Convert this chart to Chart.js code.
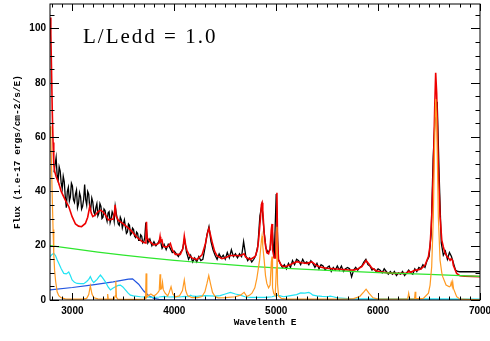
<!DOCTYPE html>
<html>
<head>
<meta charset="utf-8">
<script src="https://cdn.jsdelivr.net/npm/chart.js@4.4.1/dist/chart.umd.min.js"></script>
<style>
  html, body { margin: 0; padding: 0; background: #fff; }
  canvas { display: block; }
</style>
</head>
<body>
<canvas id="spec" width="490" height="341"></canvas>
<script>
// ---- Observed spectrum (black) ----
const obsWave = [
  2820,2830,2840,2850,2860,2870,2880,2890,2900,2910, 2920,2930,2940,2950,2960,2970,2980,2990,3000,3010,
  3020,3030,3040,3050,3060,3070,3080,3090,3100,3110, 3120,3130,3140,3150,3160,3170,3180,3190,3200,3210,
  3220,3230,3240,3250,3260,3270,3280,3290,3300,3310, 3320,3330,3340,3350,3360,3370,3380,3390,3400,3410,
  3420,3430,3440,3450,3460,3470,3480,3490,3500,3510, 3520,3530,3540,3550,3560,3570,3580,3590,3600,3610,
  3620,3630,3640,3650,3660,3670,3680,3690,3700,3710,
  3720,3740,3760,3780,3800, 3820,3840,3860,3880,3900, 3920,3940,3960,3980,4000,
  4020,4040,4060,4080,4100, 4120,4140,4160,4180,4200, 4220,4240,4260,4280,4300, 4320,4340,4360,4380,4400,
  4420,4440,4460,4480,4500, 4520,4540,4560,4580,4600, 4620,4640,4660,4680,4700, 4720,4740,4760,4780,4800,
  4820,4840,4860,4880,4900, 4920,4940,4960,4980,5000, 5020,5040,5060,5080,5100, 5120,5140,5160,5180,5200,
  5220,5240,5260,5280,5300, 5320,5340,5360,5380,5400, 5420,5440,5460,5480,5500, 5520,5540,5560,5580,5600,
  5620,5640,5660,5680,5700, 5720,5740,5760,5780,5800, 5820,5840,5860,5880,5900, 5920,5940,5960,5980,6000,
  6020,6040,6060,6080,6100, 6120,6140,6160,6180,6200, 6220,6240,6260,6280,6300, 6320,6340,6360,6380,6400,
  6420,6440,6460,6480,6500, 6520,6540,6560,6580,6600, 6620,6640,6660,6680,6700, 6720,6740,6760,6780,6800,
  7000
];
const obsFlux = [
  47.0,50.0,52.5,46.0,44.0,49.0,47.5,43.0,41.0,45.5, 43.5,38.0,34.0,40.0,41.5,36.5,38.0,43.0,42.0,37.0,
  36.0,39.0,40.5,34.0,35.5,39.5,38.0,33.5,34.5,37.0, 42.5,37.0,35.0,40.0,39.0,34.0,33.5,37.5,36.0,32.5,
  31.5,34.0,35.5,31.0,32.0,35.5,34.5,30.0,30.5,33.5, 33.0,30.5,29.0,32.0,32.5,28.5,30.0,32.5,31.5,29.0,
  34.5,32.0,30.0,28.0,27.5,30.5,29.5,26.5,28.0,29.5, 27.0,24.5,25.0,28.0,27.5,24.0,24.5,26.5,26.0,23.5,
  23.0,25.0,24.5,22.0,22.0,24.0,23.5,21.0,21.5,23.0,
  28.5,21.0,22.5,20.0,21.5, 20.0,21.0,22.5,19.0,20.5, 18.5,20.5,19.0,17.5,18.0,
  17.0,16.0,17.5,18.5,22.5, 17.5,15.0,16.5,14.0,15.5, 14.0,16.0,14.5,15.0,19.0, 24.0,27.0,21.5,18.5,16.5,
  15.0,17.0,15.5,16.5,15.0, 17.5,15.5,18.5,16.0,17.0, 15.5,17.0,16.0,21.5,16.5, 14.5,15.5,14.0,15.0,16.5,
  20.0,31.0,35.0,25.5,19.0, 17.5,18.5,26.5,15.5,39.0, 15.0,13.5,12.0,13.0,11.5, 13.5,12.0,14.5,13.0,15.0,
  14.5,13.0,15.0,13.5,14.0, 13.0,14.5,13.5,12.0,13.5, 11.5,13.0,12.5,11.0,12.0, 12.5,10.5,12.0,11.0,12.5,
  11.0,12.5,10.5,11.5,12.0, 11.5,8.5,11.0,12.0,11.0, 12.0,12.5,14.0,15.0,13.0, 12.5,11.0,11.5,10.5,11.5,
  11.0,10.0,11.5,10.5,9.5, 10.5,9.5,10.5,9.0,10.0, 9.5,10.5,9.0,10.0,11.0, 10.0,9.5,11.5,10.5,12.0,
  11.5,13.0,12.0,14.5,16.0, 24.0,52.0,68.0,73.0,45.0, 21.0,16.5,18.0,15.0,17.5, 16.0,13.5,11.0,10.5,10.4,
  10.4
];

// ---- Total model (red) ----
const modelWave = [
  2782,2788,2795,2802,2810,2817,2825,2840,2866,2890,
  2915,2940,2964,2997,3030,3060,3090,3127,3150,3170,
  3185,3200,3225,3250,3275,3300,3324,3353,3400,3412,
  3420,3428,3451,3500,3569,3634,3683,3715,3722,3727,
  3732,3760,3797,3830,3850,3860,3866,3879,3890,3912,
  3940,3961,3980,4010,4059,4085,4098,4110,4124,4150,
  4173,4222,4272,4304,4325,4340,4355,4370,4395,4418,
  4467,4500,4549,4600,4647,4685,4700,4745,4794,4815,
  4827,4845,4855,4861,4868,4882,4895,4908,4925,4940,
  4952,4959,4964,4980,4995,5002,5007,5013,5023,5045,
  5072,5100,5137,5170,5203,5250,5301,5350,5399,5450,
  5497,5560,5627,5700,5758,5800,5840,5882,5910,5938,
  5980,6020,6100,6150,6281,6300,6320,6364,6379,6420,
  6461,6494,6510,6526,6542,6555,6565,6575,6591,6608,
  6625,6640,6655,6673,6690,6706,6716,6731,6738,6771,
  6804,6850,7000
];
const modelFlux = [
  104,98,85,70,58,50,47.5,45.5,43,40,
  38,36,34.4,30.7,28.0,27.2,27.0,28.2,30.5,34.4,
  32.0,30.7,31.3,32.5,33.1,32.5,31.3,29.5,29.8,32.0,
  35.0,31.0,29.3,28.0,25.8,23.1,21.5,21.0,24.0,28.8,
  23.0,21.5,20.3,20.5,21.0,23.3,21.5,22.0,19.8,19.5,
  19.8,20.8,18.5,16.8,16.8,19.0,23.5,20.5,18.2,16.3,
  15.5,14.9,16.6,20.5,24.5,26.4,24.0,21.5,18.0,16.3,
  15.2,15.6,16.4,16.4,16.3,17.0,15.8,14.9,16.0,18.5,
  22.0,30.0,35.2,35.8,33.0,24.5,20.0,17.4,17.0,19.0,
  26.0,28.0,18.5,15.5,15.5,25.0,39.5,22.0,14.8,13.0,
  12.2,12.4,13.0,13.6,14.1,13.7,13.5,14.0,12.6,12.0,
  11.7,11.5,11.3,11.1,11.0,11.4,12.3,14.5,13.3,11.8,
  10.8,10.4,10.0,9.8,9.8,10.6,10.2,11.0,11.0,11.4,
  12.9,16.0,20.0,30.0,48.0,70.0,83.7,76.0,49.0,30.7,
  22.0,19.6,17.5,16.2,15.5,14.6,15.2,14.6,12.8,9.8,
  8.9,8.8,8.6
];

// ---- Power-law continuum (green) ----
const contWave = [2780,3000,3250,3500,3750,4000,4250,4500,4750,5000,5500,6000,6500,7000];
const contFlux = [20.0,18.9,17.6,16.5,15.5,14.6,13.8,13.1,12.4,11.8,10.9,10.1,9.4,8.7];

// ---- Balmer continuum (blue) ----
const balmerWave = [2780,3000,3200,3400,3550,3590,3650,3700,3750,3800,3850,3900,3950,4000,7000];
const balmerFlux = [3.7,4.6,5.6,6.7,7.7,7.8,5.8,3.3,1.6,0.6,0.2,0.05,0.0,0.0,0.0];

// ---- Fe II pseudo-continuum (cyan) ----
const feWave = [
  2782,2800,2817,2835,2850,2866,2890,2915,2940,2964,
  2980,2997,3020,3046,3080,3111,3140,3160,3176,3193,
  3209,3225,3242,3260,3275,3295,3324,3350,3373,3400,
  3422,3450,3471,3495,3520,3545,3569,3600,3667,3720,
  3797,3850,3900,3950,4000,4050,4100,4140,4160,4180,
  4220,4260,4300,4350,4400,4450,4500,4550,4600,4647,
  4700,4750,4840,4900,4960,5007,5040,5072,5110,5170,
  5200,5240,5280,5320,5340,5360,5400,5450,5500,5530,
  5560,5600,5700,5900,6200,6500,7000
];
const feFlux = [
  16.0,16.8,17.2,16.3,14.8,13.5,11.5,9.8,9.6,10.3,
  9.0,7.4,6.5,6.1,6.0,6.0,6.8,7.6,8.6,7.2,
  6.4,7.0,7.6,8.5,9.2,8.2,6.7,4.8,3.7,4.4,
  4.9,5.4,5.5,4.8,3.7,2.6,1.8,1.5,1.2,1.1,
  1.0,1.1,1.3,1.1,1.2,1.1,1.3,1.2,1.8,1.4,
  1.3,1.5,1.6,1.5,1.4,1.6,2.2,2.8,2.2,1.8,
  1.1,1.0,1.0,1.0,1.2,1.8,1.5,1.2,1.4,1.8,
  2.0,2.6,2.5,2.8,2.4,1.8,1.5,1.3,1.2,1.4,
  1.2,0.8,0.5,0.4,0.4,0.4,0.3
];

// ---- Emission lines (orange) ----
const lineWave = [
  2782,2788,2795,2802,2810,2817,2825,2835,2850,2866,
  2890,2930,3000,3100,3140,3160,3176,3192,3210,3250,
  3340,3346,3352,3410,3420,3426,3432,3445,3600,3700,
  3718,3723,3730,3740,3770,3798,3820,3840,3852,3860,
  3866,3876,3884,3892,3910,3935,3950,3968,3985,4010,
  4050,4080,4098,4112,4130,4173,4230,4272,4300,4320,
  4338,4355,4375,4400,4430,4500,4600,4650,4685,4712,
  4740,4762,4790,4810,4837,4855,4861,4868,4882,4895,
  4908,4925,4940,4952,4959,4964,4975,4990,5002,5007,
  5013,5023,5050,5100,5700,5760,5820,5860,5882,5910,
  5950,6000,6290,6300,6310,6358,6364,6370,6420,6444,
  6494,6510,6526,6542,6555,6565,6575,6591,6608,6625,
  6634,6667,6699,6710,6718,6725,6732,6740,6771,6804,
  7000
];
const lineFlux = [
  64,60,50,38,26,17,11,7,3,1.6,
  0.8,0.4,0.3,0.3,0.6,2.0,5.2,2.2,0.8,0.4,
  0.3,2.2,0.3,0.3,1.5,7.0,1.0,0.3,0.2,0.3,
  0.5,9.8,1.0,1.5,2.2,1.5,2.0,2.8,3.5,9.5,
  4.0,4.2,6.5,3.8,2.5,1.5,2.8,4.9,2.2,1.2,
  1.5,3.5,7.4,3.5,1.6,0.9,0.9,1.3,3.0,6.0,
  9.0,6.0,2.8,1.3,0.8,0.9,1.2,1.8,2.8,1.3,
  1.8,2.5,4.5,8.0,14.7,22.0,23.6,20.0,14.7,9.0,
  6.1,4.5,5.5,14.0,16.0,4.5,2.5,1.6,12.0,27.0,
  6.0,1.5,0.6,0.3,0.3,0.5,1.3,3.0,4.0,2.5,
  0.8,0.3,0.3,2.5,0.3,0.4,3.0,0.5,0.5,0.6,
  2.5,5.5,12.3,30.7,58.0,74.0,66.0,30.7,14.7,10.0,
  8.6,5.5,4.9,5.2,6.5,5.4,6.7,4.2,1.2,0.3,
  0.1
];

// ---- Axes ----
const xMin = 2780, xMax = 7000, yMin = 0, yMax = 109;
const xTickValues = [3000, 4000, 5000, 6000, 7000];
const yTickValues = [0, 20, 40, 60, 80, 100];
const xMinorStep = 100, yMinorStep = 5;

const toPoints = (w, f) => w.map((x, i) => ({ x: x, y: f[i] }));

// Box frame with inward major/minor ticks on all four sides
const framePlugin = {
  id: 'frame',
  afterDatasetsDraw(chart) {
    const { ctx, chartArea: a, scales: { x, y } } = chart;
    ctx.save();
    ctx.strokeStyle = '#000';
    ctx.lineWidth = 1;
    ctx.strokeRect(a.left, a.top, a.right - a.left, a.bottom - a.top);
    ctx.beginPath();
    for (let v = Math.ceil(xMin / xMinorStep) * xMinorStep; v <= xMax; v += xMinorStep) {
      const px = Math.round(x.getPixelForValue(v)) + 0.5;
      const len = v % 1000 === 0 ? 7 : 3.5;
      ctx.moveTo(px, a.bottom); ctx.lineTo(px, a.bottom - len);
      ctx.moveTo(px, a.top); ctx.lineTo(px, a.top + len);
    }
    for (let v = yMin; v <= yMax; v += yMinorStep) {
      const py = Math.round(y.getPixelForValue(v)) + 0.5;
      const len = v % 20 === 0 ? 9 : 4.5;
      ctx.moveTo(a.left, py); ctx.lineTo(a.left + len, py);
      ctx.moveTo(a.right, py); ctx.lineTo(a.right - len, py);
    }
    ctx.stroke();
    ctx.restore();
  },
  afterDraw(chart) {
    const { ctx, chartArea: a } = chart;
    ctx.save();
    ctx.fillStyle = '#000';
    // panel label
    ctx.font = '21px "Liberation Serif"';
    ctx.letterSpacing = '2px';
    ctx.textAlign = 'left';
    ctx.textBaseline = 'alphabetic';
    ctx.fillText('L/Ledd = 1.0', 83, 43);
    ctx.letterSpacing = '0px';
    // axis titles
    ctx.font = 'bold 9.5px "Liberation Mono"';
    ctx.textAlign = 'center';
    ctx.textBaseline = 'middle';
    ctx.fillText('Wavelenth E', (a.left + a.right) / 2, 323);
    ctx.translate(18, (a.top + a.bottom) / 2);
    ctx.rotate(-Math.PI / 2);
    ctx.fillText('Flux (1.e-17 ergs/cm-2/s/E)', 0, 0);
    ctx.restore();
  }
};

const tickFont = { family: '"Liberation Sans", Arial, sans-serif', size: 10, weight: 'bold' };

new Chart(document.getElementById('spec'), {
  type: 'line',
  data: {
    datasets: [
      { data: toPoints(lineWave, lineFlux), borderColor: '#ff9a22', borderWidth: 1.2 },
      { data: toPoints(feWave, feFlux), borderColor: '#22e4f4', borderWidth: 1.2 },
      { data: toPoints(balmerWave, balmerFlux), borderColor: '#2255e0', borderWidth: 1.2 },
      { data: toPoints(contWave, contFlux), borderColor: '#2ee62e', borderWidth: 1.2 },
      { data: toPoints(modelWave, modelFlux), borderColor: '#ee0000', borderWidth: 1.6 },
      { data: toPoints(obsWave, obsFlux), borderColor: '#000000', borderWidth: 1.3 }
    ]
  },
  options: {
    responsive: false,
    animation: false,
    devicePixelRatio: 1,
    layout: { padding: { left: 0, right: 10, top: 4, bottom: 0 } },
    elements: { point: { radius: 0 }, line: { tension: 0, fill: false } },
    plugins: { legend: { display: false }, tooltip: { enabled: false }, title: { display: false } },
    scales: {
      x: {
        type: 'linear', min: xMin, max: xMax,
        grid: { display: false, drawTicks: false },
        border: { display: false },
        afterBuildTicks: s => { s.ticks = xTickValues.map(v => ({ value: v })); },
        afterFit: s => { s.height = 41; s.paddingLeft = 0; s.paddingRight = 0; },
        ticks: { color: '#000', font: tickFont, padding: 5, maxRotation: 0, autoSkip: false, callback: v => String(v) }
      },
      y: {
        type: 'linear', min: yMin, max: yMax,
        grid: { display: false, drawTicks: false },
        border: { display: false },
        afterBuildTicks: s => { s.ticks = yTickValues.map(v => ({ value: v })); },
        afterFit: s => { s.width = 50; s.paddingTop = 0; s.paddingBottom = 0; },
        ticks: { color: '#000', font: tickFont, padding: 4, autoSkip: false, callback: v => String(v) }
      }
    }
  },
  plugins: [framePlugin]
});
</script>
</body>
</html>
